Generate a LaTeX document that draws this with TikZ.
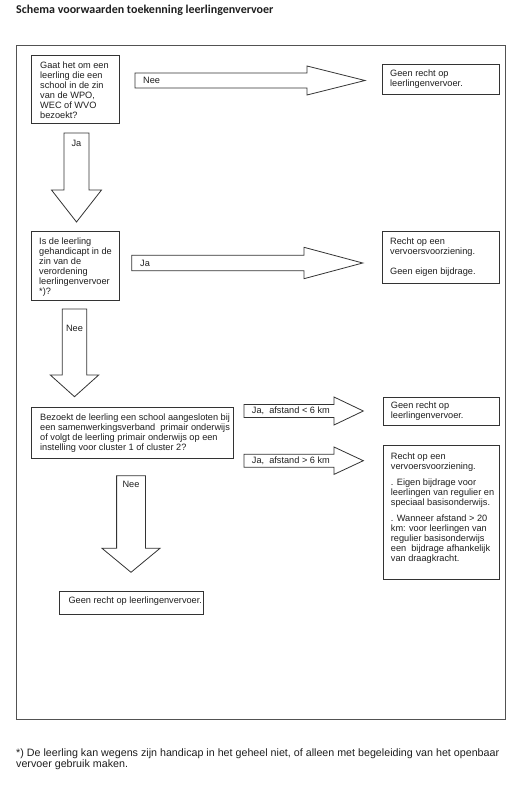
\documentclass[tikz,border=0pt]{standalone}
\usepackage{fontspec}
\setmainfont{Liberation Sans}
\newfontfamily\titlefont{Carlito}
\definecolor{linec}{gray}{0.2}
\definecolor{framec}{gray}{0.32}
\definecolor{txt}{gray}{0.12}
\newcommand{\harrowR}[6]{%
  \draw[blk] (#1,#4-#5) -- (#2,#4-#5) -- (#2,#4-#6) -- (#3,#4) -- (#2,#4+#6) -- (#2,#4+#5) -- (#1,#4+#5) -- cycle;}
\newcommand{\varrowD}[6]{%
  \draw[blk] (#1-#5,#2) -- (#1+#5,#2) -- (#1+#5,#3) -- (#1+#6,#3) -- (#1,#4) -- (#1-#6,#3) -- (#1-#5,#3) -- cycle;}
\begin{document}
\begin{tikzpicture}[x=1pt,y=-1pt,
  box/.style={draw=linec, line width=0.9pt, inner sep=0pt, anchor=north west},
  btext/.style={anchor=north west, inner sep=0pt, align=left, font=\fontsize{9.2}{10}\selectfont, text=txt},
  blk/.style={draw=linec, line width=0.8pt, fill=white, line join=miter},
  alabel/.style={inner sep=0pt, font=\fontsize{9.2}{10}\selectfont, text=txt}]
\useasboundingbox (0,0) rectangle (524,786);
\fill[white] (0,0) rectangle (524,786);

% title
\node[anchor=west, inner sep=0pt, text=txt, font=\titlefont\bfseries\fontsize{12}{14}\selectfont] (title) at (16,10) {Schema voorwaarden toekenning leerlingenvervoer};

% frame
\node[draw=framec, line width=1.3pt, inner sep=0pt, anchor=north west, minimum width=489pt, minimum height=674pt] (frame) at (16,45) {};

% question boxes
\node[box, minimum width=88.3pt, minimum height=68pt] (q1) at (30.7,55) {};
\node[btext] (q1t) at ([shift={(9.3,6.6)}]q1.north west) {Gaat het om een\\leerling die een\\school in de zin\\van de WPO,\\WEC of WVO\\bezoekt?};

\node[box, minimum width=88.3pt, minimum height=69.3pt] (q2) at (30.7,230.7) {};
\node[btext] (q2t) at ([shift={(8.3,6.9)}]q2.north west) {Is de leerling\\gehandicapt in de\\zin van de\\verordening\\leerlingenvervoer\\*)?};

\node[box, minimum width=202pt, minimum height=51pt] (q3) at (31,407) {};
\node[btext] (q3t) at ([shift={(9,6.3)}]q3.north west) {Bezoekt de leerling een school aangesloten bij\\een samenwerkingsverband\ \ primair onderwijs\\of volgt de leerling primair onderwijs op een\\instelling voor cluster 1 of cluster 2?};

% result boxes
\node[box, minimum width=117.3pt, minimum height=30pt] (r1) at (381.7,64) {};
\node[btext] (r1t) at ([shift={(8.3,5.9)}]r1.north west) {Geen recht op\\leerlingenvervoer.};

\node[box, minimum width=117pt, minimum height=52pt] (r2) at (382,230.7) {};
\node[btext] (r2t) at ([shift={(8,6.6)}]r2.north west) {Recht op een\\vervoersvoorziening.\\[10pt]Geen eigen bijdrage.};

\node[box, minimum width=116.6pt, minimum height=27.7pt] (r3) at (382.7,397.3) {};
\node[btext] (r3t) at ([shift={(8,4.3)}]r3.north west) {Geen recht op\\leerlingenvervoer.};

\node[box, minimum width=116.6pt, minimum height=134pt] (r4) at (382.7,445) {};
\node[btext] (r4t) at ([shift={(8,7.6)}]r4.north west) {Recht op een\\vervoersvoorziening.\\[6pt]. Eigen bijdrage voor\\leerlingen van regulier en\\speciaal basisonderwijs.\\[6pt]. Wanneer afstand > 20\\km: voor leerlingen van\\regulier basisonderwijs\\een\ \ bijdrage afhankelijk\\van draagkracht.};

\node[box, minimum width=143.4pt, minimum height=23pt] (r5) at (59.3,591) {};
\node[alabel, anchor=west] (r5t) at ([shift={(9,-1.5)}]r5.west) {Geen recht op leerlingenvervoer.};

% block arrows
\harrowR{135}{307}{365}{80.5}{7.5}{14.5}
\node[alabel, anchor=west] (a1t) at (143,80.5) {Nee};
\harrowR{131.7}{304}{362.7}{263}{7.8}{15.7}
\node[alabel, anchor=west] (a2t) at (140,263) {Ja};
\harrowR{244}{334}{363.3}{411}{6.5}{14}
\node[alabel, anchor=west] (a3t) at (251.7,411) {Ja,\ \ afstand < 6 km};
\harrowR{244}{334}{363.3}{460.7}{6.5}{13.7}
\node[alabel, anchor=west] (a4t) at (251.7,460.7) {Ja,\ \ afstand > 6 km};

\varrowD{76.5}{133}{190}{222}{12.5}{25}
\node[alabel] (d1t) at (76.5,143) {Ja};
\varrowD{74.5}{309}{375}{396.7}{12.3}{24.2}
\node[alabel] (d2t) at (74.5,328) {Nee};
\varrowD{131}{475.7}{548.3}{572.3}{14.4}{29}
\node[alabel] (d3t) at (131,484) {Nee};

% footnote
\node[anchor=north west, inner sep=0pt, align=left, text=txt, font=\fontsize{10.7}{11.3}\selectfont] (fn) at (16,748.5) {*) De leerling kan wegens zijn handicap in het geheel niet, of alleen met begeleiding van het openbaar\\vervoer gebruik maken.};
\end{tikzpicture}
\end{document}
